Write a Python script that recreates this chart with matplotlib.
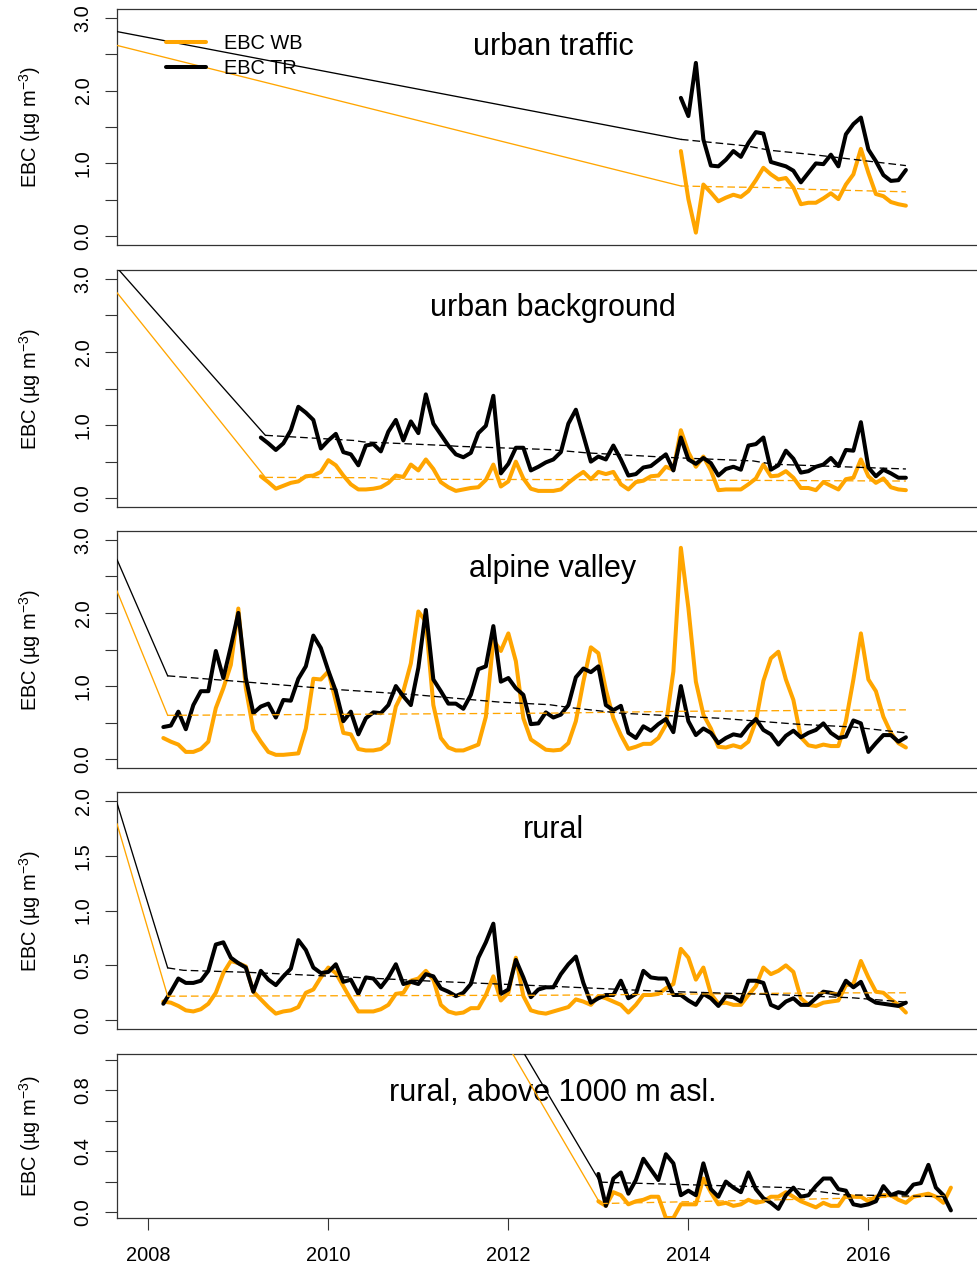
import numpy as np
import matplotlib
matplotlib.use('Agg')
import matplotlib.pyplot as plt

plt.rcParams['font.family'] = ['Liberation Sans', 'DejaVu Sans']
plt.rcParams['mathtext.fontset'] = 'custom'
plt.rcParams['mathtext.rm'] = 'Liberation Sans'
plt.rcParams['mathtext.it'] = 'Liberation Sans:italic'
plt.rcParams['mathtext.bf'] = 'Liberation Sans:bold'
plt.rcParams['axes.unicode_minus'] = True

# ---------------- data ----------------
titles = ["urban traffic", "urban background", "alpine valley", "rural",
          "rural, above 1000 m asl."]
series_labels = ["EBC WB", "EBC TR"]

# first month (year, month) of each monthly series
ut_start = (2013, 12)
ub_start = (2009, 4)
av_start = (2008, 3)
ru_start = (2008, 3)
ra_start = (2013, 1)

# urban traffic
ut_wb = [1.17, 0.51, 0.05, 0.71, 0.60, 0.48, 0.53, 0.57, 0.54, 0.62, 0.77, 0.94,
         0.85, 0.78, 0.80, 0.67, 0.44, 0.46, 0.46, 0.52, 0.59, 0.51, 0.71, 0.85,
         1.20, 0.87, 0.58, 0.55, 0.47, 0.44, 0.42]
ut_tr = [1.90, 1.65, 2.38, 1.33, 0.97, 0.96, 1.05, 1.17, 1.09, 1.28, 1.43, 1.41,
         1.02, 0.99, 0.96, 0.90, 0.74, 0.87, 1.00, 0.99, 1.12, 0.96, 1.40, 1.54,
         1.63, 1.19, 1.03, 0.84, 0.76, 0.77, 0.91]

# urban background
ub_wb = [0.30, 0.22, 0.13, 0.17, 0.21, 0.23, 0.30, 0.31, 0.36, 0.52, 0.45, 0.31,
         0.19, 0.12, 0.12, 0.13, 0.15, 0.21, 0.31, 0.29, 0.46, 0.38, 0.53, 0.40,
         0.22, 0.15, 0.10, 0.12, 0.14, 0.15, 0.25, 0.46, 0.16, 0.23, 0.50, 0.27,
         0.13, 0.10, 0.10, 0.10, 0.12, 0.21, 0.29, 0.36, 0.26, 0.36, 0.33, 0.36,
         0.19, 0.12, 0.22, 0.24, 0.30, 0.31, 0.43, 0.39, 0.93, 0.63, 0.43, 0.57,
         0.38, 0.11, 0.12, 0.12, 0.12, 0.19, 0.27, 0.46, 0.30, 0.31, 0.37, 0.28,
         0.14, 0.14, 0.11, 0.22, 0.17, 0.12, 0.26, 0.28, 0.53, 0.30, 0.21, 0.27,
         0.15, 0.12, 0.11]
ub_tr = [0.83, 0.75, 0.66, 0.75, 0.93, 1.25, 1.17, 1.07, 0.68, 0.79, 0.88, 0.63,
         0.60, 0.45, 0.72, 0.74, 0.64, 0.91, 1.07, 0.79, 1.05, 0.89, 1.42, 1.02,
         0.87, 0.72, 0.60, 0.56, 0.62, 0.89, 0.99, 1.40, 0.34, 0.47, 0.69, 0.69,
         0.38, 0.43, 0.49, 0.53, 0.63, 1.02, 1.21, 0.86, 0.50, 0.57, 0.53, 0.72,
         0.53, 0.31, 0.33, 0.42, 0.44, 0.52, 0.60, 0.38, 0.83, 0.53, 0.47, 0.55,
         0.48, 0.31, 0.40, 0.43, 0.39, 0.72, 0.74, 0.83, 0.39, 0.45, 0.65, 0.54,
         0.35, 0.37, 0.43, 0.46, 0.55, 0.44, 0.66, 0.65, 1.04, 0.42, 0.30, 0.39,
         0.34, 0.28, 0.28]

# alpine valley
av_wb = [0.29, 0.24, 0.20, 0.10, 0.10, 0.14, 0.24, 0.70, 0.97, 1.29, 2.06, 0.97,
         0.40, 0.24, 0.10, 0.06, 0.06, 0.07, 0.08, 0.42, 1.10, 1.09, 1.20, 0.79,
         0.36, 0.34, 0.14, 0.12, 0.12, 0.14, 0.22, 0.72, 0.93, 1.31, 2.02, 1.88,
         0.74, 0.29, 0.16, 0.12, 0.12, 0.16, 0.20, 0.58, 1.63, 1.48, 1.72, 1.34,
         0.56, 0.27, 0.20, 0.13, 0.12, 0.13, 0.22, 0.52, 1.06, 1.53, 1.45, 0.95,
         0.56, 0.33, 0.14, 0.17, 0.21, 0.21, 0.29, 0.47, 1.20, 2.89, 2.07, 1.06,
         0.61, 0.42, 0.17, 0.16, 0.19, 0.16, 0.24, 0.52, 1.07, 1.38, 1.47, 1.09,
         0.81, 0.30, 0.19, 0.17, 0.20, 0.18, 0.18, 0.52, 1.09, 1.72, 1.09, 0.93,
         0.58, 0.36, 0.22, 0.16]
av_tr = [0.44, 0.46, 0.65, 0.41, 0.74, 0.93, 0.93, 1.48, 1.11, 1.54, 2.00, 1.11,
         0.63, 0.72, 0.76, 0.57, 0.81, 0.80, 1.10, 1.27, 1.69, 1.52, 1.21, 0.93,
         0.52, 0.65, 0.34, 0.56, 0.64, 0.63, 0.74, 1.00, 0.86, 0.74, 1.25, 2.04,
         1.09, 0.93, 0.76, 0.76, 0.69, 0.88, 1.23, 1.27, 1.82, 1.06, 1.11, 0.97,
         0.88, 0.48, 0.49, 0.64, 0.57, 0.61, 0.74, 1.12, 1.24, 1.19, 1.27, 0.74,
         0.67, 0.73, 0.36, 0.29, 0.45, 0.39, 0.48, 0.55, 0.37, 1.00, 0.52, 0.33,
         0.42, 0.36, 0.22, 0.29, 0.34, 0.32, 0.45, 0.55, 0.40, 0.34, 0.20, 0.32,
         0.39, 0.30, 0.36, 0.40, 0.49, 0.36, 0.29, 0.31, 0.53, 0.49, 0.10, 0.22,
         0.33, 0.33, 0.24, 0.30]

# rural
ru_wb = [0.17, 0.16, 0.13, 0.09, 0.08, 0.10, 0.15, 0.25, 0.43, 0.54, 0.52, 0.49,
         0.26, 0.19, 0.12, 0.06, 0.08, 0.09, 0.12, 0.25, 0.28, 0.39, 0.48, 0.43,
         0.31, 0.19, 0.08, 0.08, 0.08, 0.10, 0.14, 0.24, 0.25, 0.36, 0.38, 0.45,
         0.37, 0.14, 0.08, 0.06, 0.07, 0.11, 0.11, 0.23, 0.40, 0.18, 0.25, 0.57,
         0.22, 0.09, 0.07, 0.06, 0.08, 0.10, 0.12, 0.19, 0.17, 0.14, 0.22, 0.20,
         0.17, 0.14, 0.07, 0.14, 0.23, 0.23, 0.24, 0.29, 0.33, 0.65, 0.57, 0.37,
         0.48, 0.24, 0.15, 0.16, 0.14, 0.14, 0.23, 0.31, 0.48, 0.42, 0.45, 0.50,
         0.44, 0.20, 0.14, 0.13, 0.16, 0.17, 0.18, 0.32, 0.33, 0.54, 0.39, 0.26,
         0.25, 0.19, 0.14, 0.07]
ru_tr = [0.15, 0.26, 0.38, 0.34, 0.34, 0.36, 0.45, 0.69, 0.71, 0.57, 0.52, 0.48,
         0.26, 0.45, 0.37, 0.32, 0.40, 0.47, 0.73, 0.64, 0.48, 0.43, 0.44, 0.51,
         0.35, 0.37, 0.24, 0.39, 0.38, 0.30, 0.39, 0.51, 0.33, 0.35, 0.33, 0.42,
         0.40, 0.29, 0.26, 0.22, 0.25, 0.33, 0.57, 0.71, 0.88, 0.24, 0.28, 0.55,
         0.39, 0.21, 0.28, 0.30, 0.30, 0.42, 0.51, 0.58, 0.34, 0.16, 0.20, 0.23,
         0.23, 0.36, 0.20, 0.24, 0.45, 0.39, 0.38, 0.38, 0.23, 0.23, 0.18, 0.14,
         0.24, 0.20, 0.13, 0.22, 0.21, 0.17, 0.36, 0.36, 0.34, 0.14, 0.11, 0.17,
         0.20, 0.14, 0.14, 0.20, 0.26, 0.25, 0.23, 0.36, 0.30, 0.35, 0.20, 0.16,
         0.15, 0.14, 0.13, 0.16]

# rural, above 1000 m asl.
ra_wb = [0.07, 0.04, 0.13, 0.11, 0.05, 0.07, 0.08, 0.10, 0.10, -0.04, -0.04, 0.05,
         0.05, 0.05, 0.22, 0.13, 0.05, 0.06, 0.04, 0.05, 0.08, 0.06, 0.07, 0.10,
         0.10, 0.13, 0.10, 0.07, 0.05, 0.03, 0.06, 0.04, 0.04, 0.11, 0.10, 0.10,
         0.07, 0.10, 0.11, 0.11, 0.08, 0.06, 0.10, 0.11, 0.12, 0.10, 0.06, 0.16]
ra_tr = [0.25, 0.04, 0.22, 0.26, 0.12, 0.21, 0.35, 0.28, 0.21, 0.38, 0.32, 0.11,
         0.14, 0.11, 0.32, 0.15, 0.10, 0.20, 0.16, 0.13, 0.26, 0.15, 0.09, 0.06,
         0.02, 0.11, 0.16, 0.10, 0.11, 0.17, 0.22, 0.22, 0.15, 0.14, 0.05, 0.04,
         0.05, 0.07, 0.17, 0.11, 0.13, 0.12, 0.18, 0.19, 0.31, 0.16, 0.11, 0.01]

# trend lines: first point = starting point of the thin solid segment,
# the rest is drawn dashed
ut_trend_wb_t = [2007.652, 2013.917, 2014.5, 2015.1, 2015.3, 2016.417]
ut_trend_wb_v = [2.62, 0.69, 0.675, 0.665, 0.645, 0.61]
ut_trend_tr_t = [2007.652, 2013.917, 2014.65, 2014.91, 2015.39, 2016.417]
ut_trend_tr_v = [2.81, 1.33, 1.24, 1.18, 1.12, 0.97]

ub_trend_wb_t = [2007.652, 2009.30, 2010.5, 2010.65, 2012.5, 2016.417]
ub_trend_wb_v = [2.81, 0.285, 0.28, 0.26, 0.255, 0.235]
ub_trend_tr_t = [2007.652, 2009.30, 2010.28, 2010.39, 2011.32, 2011.43, 2012.46,
                 2012.87, 2013.83, 2014.72, 2014.94, 2015.83, 2016.417]
ub_trend_tr_v = [3.15, 0.86, 0.79, 0.77, 0.72, 0.71, 0.665, 0.62, 0.555, 0.51,
                 0.465, 0.425, 0.40]

av_trend_wb_t = [2007.652, 2008.215, 2012.46, 2013.9, 2016.417]
av_trend_wb_v = [2.30, 0.60, 0.63, 0.655, 0.675]
av_trend_tr_t = [2007.652, 2008.215, 2009.24, 2010.13, 2010.98, 2011.91, 2012.46,
                 2012.69, 2013.24, 2014.35, 2015.20, 2015.83, 2016.417]
av_trend_tr_v = [2.73, 1.14, 1.04, 0.95, 0.88, 0.78, 0.745, 0.705, 0.63, 0.56,
                 0.48, 0.44, 0.36]

ru_trend_wb_t = [2007.652, 2008.215, 2012.5, 2015.5, 2016.417]
ru_trend_wb_v = [1.79, 0.219, 0.228, 0.249, 0.25]
ru_trend_tr_t = [2007.652, 2008.215, 2008.39, 2009.09, 2010.06, 2011.17, 2012.46,
                 2013.69, 2014.94, 2015.83, 2016.417]
ru_trend_tr_v = [1.98, 0.477, 0.455, 0.437, 0.40, 0.355, 0.31, 0.264, 0.234,
                 0.204, 0.165]

ra_trend_wb_t = [2011.5, 2013.02, 2015.0, 2016.87]
ra_trend_wb_v = [1.597, 0.055, 0.08, 0.105]
ra_trend_tr_t = [2011.5, 2013.02, 2013.94, 2015.13, 2015.72, 2016.87]
ra_trend_tr_v = [1.72, 0.196, 0.18, 0.16, 0.113, 0.10]

x_ticks = [2008, 2010, 2012, 2014, 2016]
x_limits = (2007.652, 2017.34)

panels = [
    dict(start=ut_start, wb=ut_wb, tr=ut_tr,
         twb=(ut_trend_wb_t, ut_trend_wb_v), ttr=(ut_trend_tr_t, ut_trend_tr_v),
         ylim=(-0.12, 3.12), yticks=np.arange(0, 3.01, 0.5), ylab=[0.0, 1.0, 2.0, 3.0]),
    dict(start=ub_start, wb=ub_wb, tr=ub_tr,
         twb=(ub_trend_wb_t, ub_trend_wb_v), ttr=(ub_trend_tr_t, ub_trend_tr_v),
         ylim=(-0.12, 3.12), yticks=np.arange(0, 3.01, 0.5), ylab=[0.0, 1.0, 2.0, 3.0]),
    dict(start=av_start, wb=av_wb, tr=av_tr,
         twb=(av_trend_wb_t, av_trend_wb_v), ttr=(av_trend_tr_t, av_trend_tr_v),
         ylim=(-0.12, 3.12), yticks=np.arange(0, 3.01, 0.5), ylab=[0.0, 1.0, 2.0, 3.0]),
    dict(start=ru_start, wb=ru_wb, tr=ru_tr,
         twb=(ru_trend_wb_t, ru_trend_wb_v), ttr=(ru_trend_tr_t, ru_trend_tr_v),
         ylim=(-0.08, 2.08), yticks=np.arange(0, 2.01, 0.5),
         ylab=[0.0, 0.5, 1.0, 1.5, 2.0]),
    dict(start=ra_start, wb=ra_wb, tr=ra_tr,
         twb=(ra_trend_wb_t, ra_trend_wb_v), ttr=(ra_trend_tr_t, ra_trend_tr_v),
         ylim=(-0.04, 1.04), yticks=np.arange(0, 1.01, 0.2), ylab=[0.0, 0.4, 0.8]),
]

# ---------------- layout / style ----------------
W, H = 978, 1267
ORANGE = '#FFA500'
BLACK = '#000000'
FRAME = '#333333'
FS = 14.4
boxes = [(117, 9, 989, 245), (117, 270, 989, 507), (117, 531, 989, 768),
         (117, 792, 989, 1029), (117, 1054, 989, 1218)]
title_off_px = [46, 46, 46, 46, 47]

fig = plt.figure(figsize=(W / 100, H / 100), dpi=100)

for i, (p, box) in enumerate(zip(panels, boxes)):
    l, t, r, b = box
    ax = fig.add_axes([l / W, 1 - b / H, (r - l) / W, (b - t) / H])
    y0, m0 = p['start']
    t_wb = y0 + (m0 - 1) / 12 + np.arange(len(p['wb'])) / 12
    t_tr = y0 + (m0 - 1) / 12 + np.arange(len(p['tr'])) / 12

    lwb, = ax.plot(t_wb, p['wb'], color=ORANGE, lw=2.9, solid_capstyle='round',
                   solid_joinstyle='round', zorder=3)
    ltr, = ax.plot(t_tr, p['tr'], color=BLACK, lw=2.9, solid_capstyle='round',
                   solid_joinstyle='round', zorder=4)
    for (tt, vv), col in ((p['twb'], ORANGE), (p['ttr'], BLACK)):
        ax.plot(tt[:2], vv[:2], color=col, lw=0.95, zorder=5)
        ax.plot(tt[1:], vv[1:], color=col, lw=0.95, dashes=(5.8, 3.0), zorder=5)

    ax.set_xlim(*x_limits)
    ax.set_ylim(*p['ylim'])
    ax.set_yticks(p['yticks'])
    ax.set_yticklabels(['%.1f' % v if any(abs(v - q) < 1e-9 for q in p['ylab']) else ''
                        for v in p['yticks']])
    for lab in ax.get_yticklabels():
        lab.set_rotation(90)
        lab.set_va('center')
    ax.tick_params(axis='y', length=8.6, width=0.8, color=FRAME, pad=9,
                   labelsize=FS, labelcolor='black')
    if i == len(panels) - 1:
        ax.set_xticks(x_ticks)
        ax.set_xticklabels([str(x) for x in x_ticks])
        ax.tick_params(axis='x', length=8.6, width=0.8, color=FRAME, pad=11.5,
                       labelsize=FS, labelcolor='black')
    else:
        ax.tick_params(axis='x', bottom=False, labelbottom=False)
    for s in ax.spines.values():
        s.set_color(FRAME)
        s.set_linewidth(0.9)

    ax.annotate(titles[i], xy=(0.5, 1), xycoords='axes fraction',
                xytext=(0, -title_off_px[i] * 0.72), textcoords='offset points',
                ha='center', va='baseline', fontsize=22)

    fig.text(36.5 / W, 1 - ((t + b) / 2) / H, 'EBC (µg m$^{-3}$)', rotation=90,
             rotation_mode='anchor', ha='center', va='baseline', fontsize=FS)

    if i == 0:
        ax.legend([lwb, ltr], series_labels, loc='upper left',
                  bbox_to_anchor=(0.0558, 0.892), borderaxespad=0, borderpad=0,
                  frameon=False, handlelength=2.0, handletextpad=0.9,
                  labelspacing=0.27, fontsize=FS)

fig.savefig('out.png', dpi=100)
